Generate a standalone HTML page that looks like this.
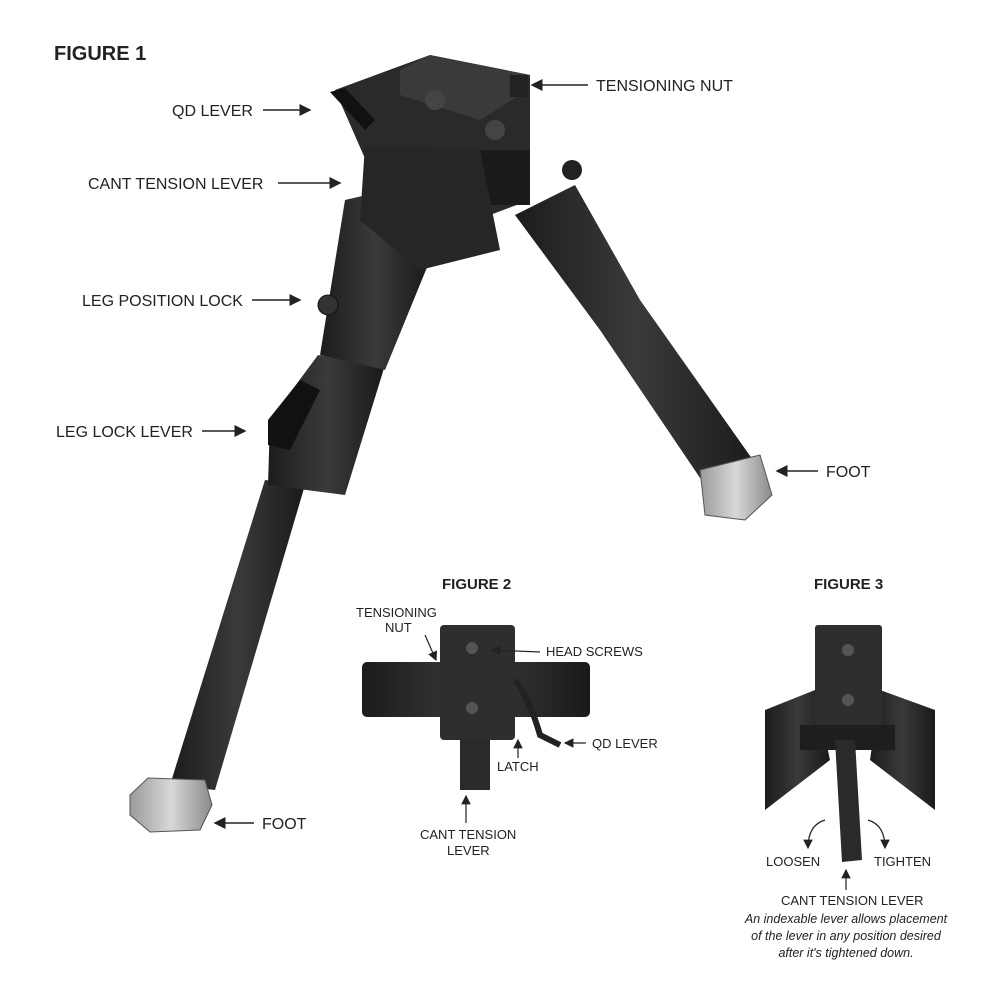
<!DOCTYPE html>
<html><head><meta charset="utf-8"><style>
html,body{margin:0;padding:0;background:#fff;}
svg{display:block}
text{font-family:"Liberation Sans",sans-serif;fill:#222;}
</style></head><body>
<svg width="1000" height="1000" viewBox="0 0 1000 1000" xmlns="http://www.w3.org/2000/svg">
<defs>
<marker id="ar" markerWidth="8" markerHeight="8" refX="7" refY="4" orient="auto"><path d="M0,0 L8,4 L0,8 z" fill="#222"/></marker>
<linearGradient id="g1" x1="0" x2="1"><stop offset="0" stop-color="#1c1c1c"/><stop offset="0.5" stop-color="#3a3a3a"/><stop offset="1" stop-color="#1a1a1a"/></linearGradient>
<linearGradient id="ft" x1="0" x2="1"><stop offset="0" stop-color="#9a9a9a"/><stop offset="0.5" stop-color="#d8d8d8"/><stop offset="1" stop-color="#8a8a8a"/></linearGradient>
</defs>
<text x="54" y="60" font-size="20" font-weight="bold">FIGURE 1</text>

<!-- right leg -->
<polygon points="515,215 575,185 640,300 760,470 715,500 600,330" fill="url(#g1)"/>
<polygon points="700,470 760,455 772,495 745,520 705,515" fill="url(#ft)" stroke="#555"/>
<!-- left leg lower tube -->
<polygon points="265,480 305,485 215,790 170,785" fill="url(#g1)"/>
<polygon points="130,795 148,778 205,780 212,805 200,830 150,832 130,815" fill="url(#ft)" stroke="#555"/>
<!-- left leg mid -->
<polygon points="318,355 385,365 345,495 268,485 270,420" fill="url(#g1)"/>
<path d="M268,420 L300,380 L320,390 L290,450 L268,445 z" fill="#111"/>
<!-- left leg upper -->
<polygon points="345,200 410,185 430,260 385,370 320,355" fill="url(#g1)"/>
<circle cx="328" cy="305" r="10" fill="#333" stroke="#111"/>
<!-- head -->
<polygon points="335,90 430,55 530,75 530,200 490,215 400,200 370,170" fill="#2a2a2a"/>
<polygon points="400,70 430,55 530,75 520,95 480,120 400,95" fill="#3a3a3a"/>
<rect x="480" y="150" width="50" height="55" fill="#1a1a1a"/>
<polygon points="365,145 480,150 500,250 420,270 360,220" fill="#262626"/>
<circle cx="435" cy="100" r="10" fill="#444"/><circle cx="495" cy="130" r="10" fill="#444"/>
<path d="M330,92 L345,88 L375,120 L365,130 z" fill="#111"/>
<rect x="510" y="75" width="18" height="22" fill="#222"/>
<circle cx="572" cy="170" r="10" fill="#222"/>

<!-- fig1 labels -->
<g font-size="16">
<text x="596" y="91">TENSIONING NUT</text>
<text x="172" y="116">QD LEVER</text>
<text x="88" y="189">CANT TENSION LEVER</text>
<text x="82" y="306">LEG POSITION LOCK</text>
<text x="56" y="437">LEG LOCK LEVER</text>
<text x="826" y="477">FOOT</text>
<text x="262" y="829">FOOT</text>
</g>
<g stroke="#222" stroke-width="1.5" marker-end="url(#ar)">
<line x1="588" y1="85" x2="532" y2="85"/>
<line x1="263" y1="110" x2="310" y2="110"/>
<line x1="278" y1="183" x2="340" y2="183"/>
<line x1="252" y1="300" x2="300" y2="300"/>
<line x1="202" y1="431" x2="245" y2="431"/>
<line x1="818" y1="471" x2="777" y2="471"/>
<line x1="254" y1="823" x2="215" y2="823"/>
</g>

<!-- figure 2 -->
<text x="442" y="589" font-size="15" font-weight="bold">FIGURE 2</text>
<rect x="362" y="662" width="228" height="55" rx="5" fill="url(#g1)"/>
<rect x="440" y="625" width="75" height="115" rx="4" fill="#2e2e2e"/>
<circle cx="472" cy="648" r="6" fill="#555"/><circle cx="472" cy="708" r="6" fill="#555"/>
<rect x="460" y="740" width="30" height="50" fill="#2a2a2a"/>
<path d="M515,680 Q530,700 540,735 L560,745" stroke="#222" stroke-width="6" fill="none"/>
<g font-size="13">
<text x="356" y="617">TENSIONING</text><text x="385" y="632">NUT</text>
<text x="546" y="656">HEAD SCREWS</text>
<text x="592" y="748">QD LEVER</text>
<text x="497" y="771">LATCH</text>
<text x="420" y="839">CANT TENSION</text><text x="447" y="855">LEVER</text>
</g>
<g stroke="#222" stroke-width="1.2" marker-end="url(#ar)">
<line x1="540" y1="652" x2="492" y2="650"/>
<line x1="586" y1="743" x2="565" y2="743"/>
<line x1="518" y1="758" x2="518" y2="740"/>
<line x1="466" y1="823" x2="466" y2="796"/>
<line x1="425" y1="635" x2="436" y2="660"/>
</g>

<!-- figure 3 -->
<text x="814" y="589" font-size="15" font-weight="bold">FIGURE 3</text>
<polygon points="765,710 815,690 830,760 765,810" fill="url(#g1)"/>
<polygon points="880,690 935,710 935,810 870,760" fill="url(#g1)"/>
<rect x="815" y="625" width="67" height="100" rx="3" fill="#2e2e2e"/>
<circle cx="848" cy="650" r="6" fill="#555"/><circle cx="848" cy="700" r="6" fill="#555"/>
<rect x="800" y="725" width="95" height="25" fill="#1e1e1e"/>
<polygon points="835,740 855,740 862,860 842,862" fill="#2a2a2a"/>
<g font-size="13">
<text x="766" y="866">LOOSEN</text><text x="874" y="866">TIGHTEN</text>
<text x="781" y="905">CANT TENSION LEVER</text>
<g font-style="italic" font-size="12.5" text-anchor="middle">
<text x="846" y="923">An indexable lever allows placement</text>
<text x="846" y="940">of the lever in any position desired</text>
<text x="846" y="957">after it's tightened down.</text></g>
</g>
<g stroke="#222" stroke-width="1.2" fill="none" marker-end="url(#ar)">
<path d="M825,820 Q808,825 808,848"/>
<path d="M868,820 Q885,825 885,848"/>
<line x1="846" y1="890" x2="846" y2="870"/>
</g>
</svg>
</body></html>
